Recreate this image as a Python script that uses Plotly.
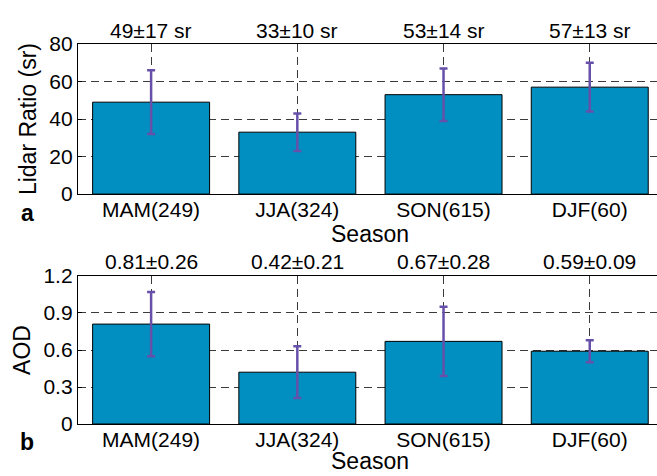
import plotly.graph_objects as go

# Seasonal statistics
seasons = ["MAM(249)", "JJA(324)", "SON(615)", "DJF(60)"]
lidar_ratio = [49, 33, 53, 57]
lidar_ratio_sd = [17, 10, 14, 13]
aod = [0.81, 0.42, 0.67, 0.59]
aod_sd = [0.26, 0.21, 0.28, 0.09]

BAR_COLOR = "#008fc0"
ERR_COLOR = "#6650aa"
GRID_COLOR = "#3a3a3a"
FONT = "Liberation Sans, Arial, sans-serif"

W, H = 657, 476
ML, MR, MT, MB = 78, 0, 44, 52
plot_w = W - ML - MR
plot_h = H - MT - MB


def px_to_paper(px, py):
    return (px - ML) / plot_w, (H - MB - py) / plot_h


fig = go.Figure()

fig.add_trace(go.Bar(
    x=seasons, y=lidar_ratio, width=0.8,
    marker=dict(color=BAR_COLOR, line=dict(color="#000000", width=1)),
    error_y=dict(type="data", array=lidar_ratio_sd, color=ERR_COLOR,
                 thickness=2.5, width=4),
    xaxis="x", yaxis="y", showlegend=False,
))
fig.add_trace(go.Bar(
    x=seasons, y=aod, width=0.8,
    marker=dict(color=BAR_COLOR, line=dict(color="#000000", width=1)),
    error_y=dict(type="data", array=aod_sd, color=ERR_COLOR,
                 thickness=2.5, width=4),
    xaxis="x2", yaxis="y2", showlegend=False,
))

xcommon = dict(
    type="category", range=[-0.5, 3.46],
    showline=True, linecolor="black", linewidth=1.3, mirror=True,
    showgrid=True, gridcolor=GRID_COLOR, griddash="8px,5px", gridwidth=1,
    ticks="", ticklabelstandoff=-3,
    tickfont=dict(size=21, color="black", family=FONT),
    zeroline=False,
)
ycommon = dict(
    showline=True, linecolor="black", linewidth=1.3,
    showgrid=True, gridcolor=GRID_COLOR, griddash="8px,5px", gridwidth=1,
    ticks="inside", ticklen=4, tickcolor="black",
    tickfont=dict(size=21, color="black", family=FONT),
    zeroline=False,
)

fig.update_layout(
    width=W, height=H,
    margin=dict(l=ML, r=MR, t=MT, b=MB),
    plot_bgcolor="white", paper_bgcolor="white",
    font=dict(family=FONT, color="black"),
    bargap=0.2,
    xaxis=dict(xcommon, anchor="y"),
    yaxis=dict(ycommon, domain=[0.605, 1.0], range=[0, 80], dtick=20,
               title=dict(text="Lidar Ratio (sr)", font=dict(size=23, color="black", family=FONT), standoff=6)),
    xaxis2=dict(xcommon, anchor="y2"),
    yaxis2=dict(ycommon, domain=[0.0, 0.3895], range=[0, 1.2],
                tickvals=[0, 0.3, 0.6, 0.9, 1.2], ticktext=["0", "0.3", "0.6", "0.9", "1.2"],
                title=dict(text="AOD", font=dict(size=23, color="black", family=FONT), standoff=6)),
)

annotations = []
for s, m, sd in zip(seasons, lidar_ratio, lidar_ratio_sd):
    annotations.append(dict(
        x=s, xref="x", y=1.093, yref="y domain", yanchor="middle",
        text=f"{m}±{sd} sr", showarrow=False,
        font=dict(size=21, color="black", family=FONT),
    ))
for s, m, sd in zip(seasons, aod, aod_sd):
    annotations.append(dict(
        x=s, xref="x2", y=1.101, yref="y2 domain", yanchor="middle",
        text=f"{m:.2f}±{sd:.2f}", showarrow=False,
        font=dict(size=21, color="black", family=FONT),
    ))

# x-axis titles and panel letters, placed in pixel terms
for text, px, py, anchor in [("Season", 370, 234, "middle"), ("Season", 370, 476, "bottom"),
                             ("<b>a</b>", 27, 213, "middle"), ("<b>b</b>", 27, 442, "middle")]:
    ax, ay = px_to_paper(px, py)
    annotations.append(dict(x=ax, y=ay, xref="paper", yref="paper",
                            xanchor="center", yanchor=anchor, text=text,
                            showarrow=False,
                            font=dict(size=23, color="black", family=FONT)))

fig.update_layout(annotations=annotations)

fig.write_html("out.html")
